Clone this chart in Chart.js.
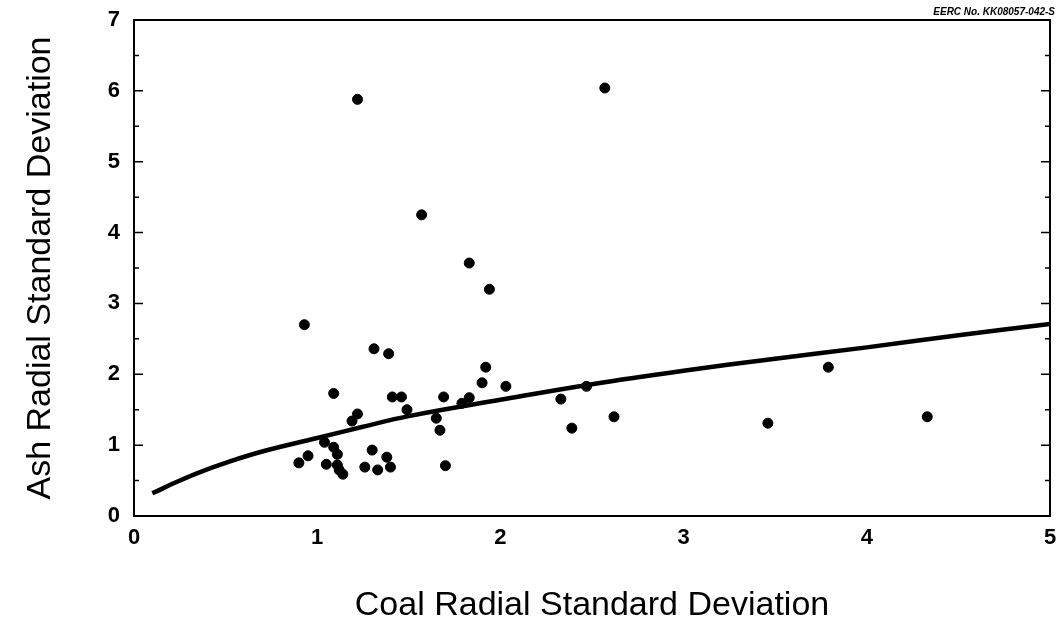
<!DOCTYPE html>
<html>
<head>
<meta charset="utf-8">
<script src="https://cdn.jsdelivr.net/npm/chart.js@4.4.1/dist/chart.umd.min.js"></script>
<style>
  html, body { margin: 0; padding: 0; background: #fff; }
  #wrap { width: 1058px; height: 626px; }
</style>
</head>
<body>
<div id="wrap"><canvas id="chartAsh" width="1058" height="626"></canvas></div>
<script>
// data
const coalSD = [1.22, 2.57, 1.57, 1.83, 1.94, 0.93, 1.31, 1.39, 1.09, 1.41,
    1.46, 1.49, 1.22, 1.19, 1.04, 1.09, 1.11, 0.95, 0.90, 1.05,
    1.30, 1.38, 1.40, 1.26, 1.33, 1.11, 1.12, 1.14, 1.92, 1.90,
    2.03, 1.69, 1.79, 1.83, 1.65, 1.67, 1.70, 2.33, 2.47, 2.39,
    2.62, 3.46, 3.79, 4.33];
const ashSD = [5.88, 6.04, 4.25, 3.57, 3.20, 2.70, 2.36, 2.29, 1.73, 1.68,
    1.68, 1.50, 1.44, 1.34, 1.04, 0.97, 0.87, 0.85, 0.75, 0.73,
    0.93, 0.83, 0.69, 0.69, 0.65, 0.72, 0.65, 0.59, 2.10, 1.88,
    1.83, 1.68, 1.59, 1.67, 1.38, 1.21, 0.71, 1.65, 1.83, 1.24,
    1.40, 1.31, 2.10, 1.40];

// fitted curve as drawn in the figure
const curveX = [0.1, 0.25, 0.35, 0.5, 0.7, 1.0, 1.25, 1.5, 2.0, 2.5, 3.0, 3.5, 4.0, 4.5, 5.0];
const curveY = [0.32, 0.50, 0.61, 0.75, 0.91, 1.10, 1.26, 1.41, 1.64, 1.86, 2.05, 2.22, 2.38, 2.55, 2.71];

const xTicks = [0, 1, 2, 3, 4, 5];
const yTicks = [0, 1, 2, 3, 4, 5, 6, 7];

const points = coalSD.map((x, i) => ({ x: x, y: ashSD[i] }));
const curve = curveX.map((x, i) => ({ x: x, y: curveY[i] }));

// frame, inward ticks and the EERC note
const framePlugin = {
    id: "frame",
    afterDraw(chart) {
        const ctx = chart.ctx;
        const a = chart.chartArea;
        const ys = chart.scales.y;
        ctx.save();
        ctx.strokeStyle = "#000";
        ctx.lineWidth = 2;
        ctx.strokeRect(a.left, a.top, a.right - a.left, a.bottom - a.top);
        ctx.lineWidth = 1.5;
        for (let v = 0.5; v < 7; v += 0.5) {
            const py = ys.getPixelForValue(v);
            const len = Number.isInteger(v) ? 9 : 5;
            ctx.beginPath();
            ctx.moveTo(a.left, py);
            ctx.lineTo(a.left + len, py);
            ctx.moveTo(a.right, py);
            ctx.lineTo(a.right - len, py);
            ctx.stroke();
        }
        ctx.fillStyle = "#000";
        ctx.font = "italic bold 10px 'Liberation Sans', Arial, sans-serif";
        ctx.textAlign = "right";
        ctx.textBaseline = "middle";
        ctx.fillText("EERC No. KK08057-042-S", 1055, 12);
        ctx.restore();
    }
};

new Chart(document.getElementById("chartAsh"), {
    type: "scatter",
    data: {
        datasets: [
            {
                label: "samples",
                data: points,
                backgroundColor: "#000",
                borderColor: "#000",
                pointRadius: 5,
                pointHoverRadius: 5
            },
            {
                label: "curve",
                data: curve,
                showLine: true,
                borderColor: "#000",
                borderWidth: 4.5,
                pointRadius: 0,
                tension: 0.4
            }
        ]
    },
    options: {
        responsive: false,
        animation: false,
        layout: { padding: { top: 20, right: 8, left: 0, bottom: 0 } },
        plugins: {
            legend: { display: false },
            tooltip: { enabled: false }
        },
        scales: {
            x: {
                type: "linear",
                min: 0,
                max: 5,
                afterBuildTicks: (s) => { s.ticks = xTicks.map(v => ({ value: v })); },
                afterFit: (s) => { s.height = 110; s.paddingLeft = 0; s.paddingRight = 0; },
                grid: { display: false, drawTicks: false },
                border: { display: false },
                ticks: {
                    color: "#000",
                    padding: 9,
                    font: { family: "'Liberation Sans', Arial, sans-serif", size: 22, weight: "bold" }
                },
                title: {
                    display: true,
                    text: "Coal Radial Standard Deviation",
                    color: "#000",
                    padding: { bottom: 0 },
                    font: { family: "'Liberation Sans', Arial, sans-serif", size: 34 }
                }
            },
            y: {
                type: "linear",
                min: 0,
                max: 7,
                afterBuildTicks: (s) => { s.ticks = yTicks.map(v => ({ value: v })); },
                afterFit: (s) => { s.width = 134; s.paddingTop = 0; s.paddingBottom = 0; },
                grid: { display: false, drawTicks: false },
                border: { display: false },
                ticks: {
                    color: "#000",
                    padding: 14,
                    font: { family: "'Liberation Sans', Arial, sans-serif", size: 22, weight: "bold" }
                },
                title: {
                    display: true,
                    text: "Ash Radial Standard Deviation",
                    color: "#000",
                    padding: { top: 20 },
                    font: { family: "'Liberation Sans', Arial, sans-serif", size: 34 }
                }
            }
        }
    },
    plugins: [framePlugin]
});
</script>
</body>
</html>
